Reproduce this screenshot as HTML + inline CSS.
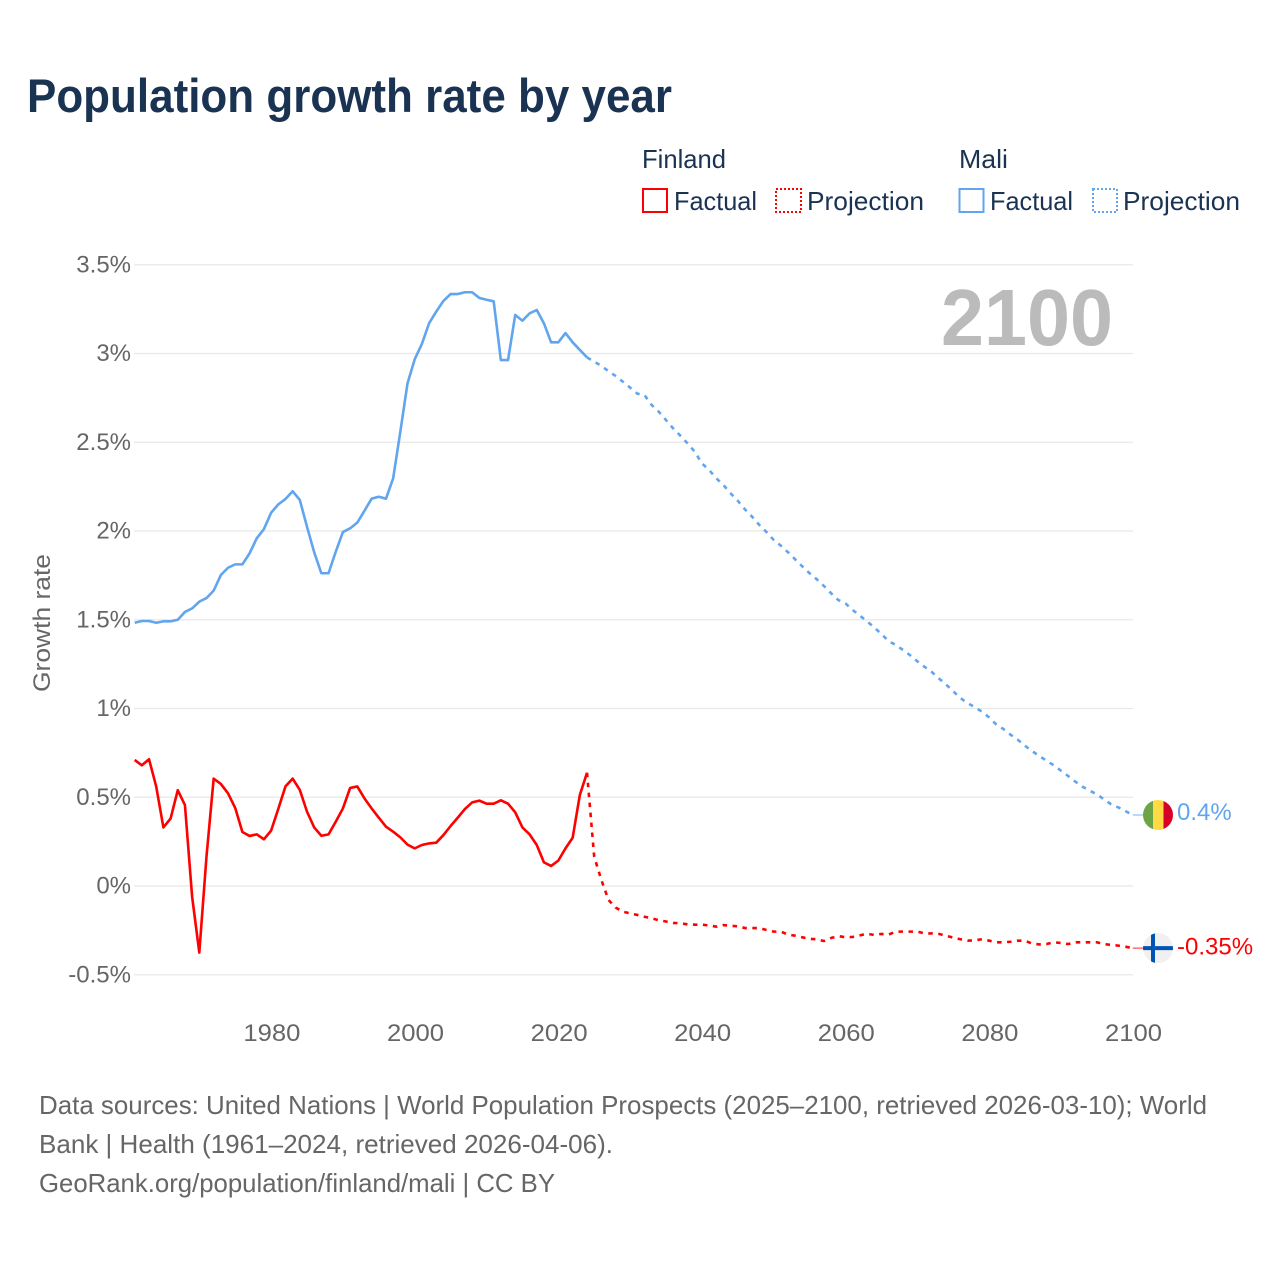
<!DOCTYPE html>
<html lang="en">
<head>
<meta charset="utf-8">
<title>Population growth rate by year</title>
<style>
  html, body { margin: 0; padding: 0; background: #fff; }
  svg { display: block; font-family: "Liberation Sans", "DejaVu Sans", sans-serif; }
</style>
</head>
<body>
<svg id="chart" width="1280" height="1280" viewBox="0 0 1280 1280" xmlns="http://www.w3.org/2000/svg">
  <defs>
    <clipPath id="flag-clip"><circle cx="0" cy="0" r="15"></circle></clipPath>
  </defs>
  <rect width="1280" height="1280" fill="#ffffff"></rect>
  <text x="27" y="112" font-size="47" font-weight="700" fill="#1a3352" textLength="645" lengthAdjust="spacingAndGlyphs">Population growth rate by year</text>

  <g font-size="26" fill="#1a3352">
    <text x="642" y="168" textLength="84" lengthAdjust="spacingAndGlyphs">Finland</text>
    <text x="959" y="168" textLength="49" lengthAdjust="spacingAndGlyphs">Mali</text>
    <g>
      <rect x="643" y="189" width="24" height="23" fill="none" stroke="#ff0000" stroke-width="2"></rect>
      <text x="674" y="210" textLength="83" lengthAdjust="spacingAndGlyphs">Factual</text>
    </g>
    <g>
      <rect x="776" y="189" width="25" height="23" fill="none" stroke="#ff0000" stroke-width="2" stroke-dasharray="2 2"></rect>
      <text x="807" y="210" textLength="117" lengthAdjust="spacingAndGlyphs">Projection</text>
    </g>
    <g>
      <rect x="959.500" y="189" width="24" height="23" fill="none" stroke="#60a5ed" stroke-width="2"></rect>
      <text x="990" y="210" textLength="83" lengthAdjust="spacingAndGlyphs">Factual</text>
    </g>
    <g>
      <rect x="1093" y="189" width="24" height="23" fill="none" stroke="#60a5ed" stroke-width="2" stroke-dasharray="2 2"></rect>
      <text x="1123" y="210" textLength="117" lengthAdjust="spacingAndGlyphs">Projection</text>
    </g>
  </g>

  <g id="grid-layer"></g>
  <g id="y-tick-layer"></g>
  <g id="x-tick-layer"></g>
  <text transform="translate(50,623) rotate(-90)" text-anchor="middle" font-size="24" fill="#666666" textLength="138" lengthAdjust="spacingAndGlyphs">Growth rate</text>
  <text x="1113" y="345" text-anchor="end" font-size="80" font-weight="700" fill="#bbbbbb" textLength="172" lengthAdjust="spacingAndGlyphs">2100</text>

  <g id="series-layer"></g>

  <g id="flag-mali">
    <g clip-path="url(#flag-clip)">
      <rect x="-15" y="-15" width="10" height="30" fill="#6da544"></rect>
      <rect x="-5" y="-15" width="10.500" height="30" fill="#ffda44"></rect>
      <rect x="5.500" y="-15" width="10" height="30" fill="#d80027"></rect>
    </g>
  </g>
  <g id="flag-finland">
    <g clip-path="url(#flag-clip)">
      <rect x="-15" y="-15" width="30" height="30" fill="#f0f0f0"></rect>
      <rect x="-7" y="-15" width="4" height="30" fill="#0052b4"></rect>
      <rect x="-15" y="-2" width="30" height="4" fill="#0052b4"></rect>
    </g>
  </g>
  <g id="value-label-layer"></g>

  <g font-size="26" fill="#666666">
    <text x="39" y="1114" textLength="1168" lengthAdjust="spacingAndGlyphs">Data sources: United Nations | World Population Prospects (2025–2100, retrieved 2026-03-10); World</text>
    <text x="39" y="1153" textLength="574" lengthAdjust="spacingAndGlyphs">Bank | Health (1961–2024, retrieved 2026-04-06).</text>
    <text x="39" y="1192" textLength="516" lengthAdjust="spacingAndGlyphs">GeoRank.org/population/finland/mali | CC BY</text>
  </g>
</svg>

<script>
const firstFactualYear = 1961;
const yTickValues = [-0.5, 0, 0.5, 1, 1.5, 2, 2.5, 3, 3.5];
const yTickLabels = ["-0.5%", "0%", "0.5%", "1%", "1.5%", "2%", "2.5%", "3%", "3.5%"];
const xTickValues = [1980, 2000, 2020, 2040, 2060, 2080, 2100];
const xTickLabels = ["1980", "2000", "2020", "2040", "2060", "2080", "2100"];

const finlandFactual = [
  0.71, 0.68, 0.714, 0.56, 0.33, 0.38, 0.54, 0.456, -0.06, -0.375,
  0.165, 0.605, 0.575, 0.522, 0.44, 0.304, 0.282, 0.291, 0.263, 0.312,
  0.434, 0.561, 0.605, 0.541, 0.419, 0.33, 0.283, 0.291, 0.362, 0.437,
  0.552, 0.561, 0.494, 0.437, 0.385, 0.334, 0.306, 0.274, 0.233, 0.212,
  0.231, 0.24, 0.244, 0.287, 0.338, 0.385, 0.434, 0.471, 0.481, 0.464,
  0.464, 0.483, 0.464, 0.415, 0.33, 0.291, 0.231, 0.133, 0.113, 0.143,
  0.212, 0.272, 0.513, 0.638
];
const finlandProjection = [
  0.165, 0.034, -0.079, -0.122, -0.145, -0.154, -0.163, -0.173, -0.182, -0.193,
  -0.2, -0.208, -0.21, -0.216, -0.218, -0.218, -0.222, -0.229, -0.22, -0.224,
  -0.227, -0.237, -0.237, -0.237, -0.248, -0.257, -0.257, -0.274, -0.28, -0.289,
  -0.298, -0.3, -0.31, -0.293, -0.282, -0.289, -0.287, -0.278, -0.269, -0.276,
  -0.27, -0.274, -0.257, -0.257, -0.257, -0.257, -0.267, -0.267, -0.27, -0.28,
  -0.291, -0.3, -0.308, -0.306, -0.3, -0.308, -0.317, -0.317, -0.314, -0.308,
  -0.308, -0.325, -0.329, -0.327, -0.317, -0.321, -0.327, -0.317, -0.317, -0.317,
  -0.317, -0.327, -0.332, -0.336, -0.342, -0.35
];
const maliFactual = [
  1.483, 1.493, 1.493, 1.483, 1.491, 1.491, 1.5, 1.544, 1.564, 1.602,
  1.622, 1.664, 1.752, 1.793, 1.812, 1.812, 1.874, 1.959, 2.011, 2.103,
  2.15, 2.18, 2.224, 2.175, 2.024, 1.88, 1.762, 1.762, 1.883, 1.994,
  2.015, 2.047, 2.114, 2.182, 2.193, 2.182, 2.297, 2.56, 2.832, 2.967,
  3.054, 3.17, 3.236, 3.296, 3.335, 3.335, 3.345, 3.345, 3.313, 3.303,
  3.294, 2.963, 2.963, 3.217, 3.185, 3.226, 3.245, 3.17, 3.063, 3.063,
  3.115, 3.063, 3.02, 2.978
];
const maliProjection = [
  2.954, 2.93, 2.9, 2.873, 2.841, 2.808, 2.774, 2.766, 2.71, 2.672,
  2.625, 2.578, 2.537, 2.494, 2.447, 2.381, 2.344, 2.297, 2.259, 2.212,
  2.17, 2.122, 2.08, 2.034, 1.994, 1.95, 1.917, 1.88, 1.84, 1.8,
  1.762, 1.728, 1.69, 1.649, 1.611, 1.592, 1.555, 1.523, 1.491, 1.457,
  1.42, 1.38, 1.358, 1.33, 1.3, 1.266, 1.235, 1.206, 1.17, 1.136,
  1.097, 1.059, 1.03, 1.008, 0.982, 0.95, 0.91, 0.884, 0.852, 0.824,
  0.79, 0.76, 0.732, 0.706, 0.68, 0.65, 0.62, 0.588, 0.56, 0.537,
  0.517, 0.488, 0.46, 0.443, 0.422, 0.4
];

const SVG_NS = "http://www.w3.org/2000/svg";
const RED = "#ff0000";
const BLUE = "#60a5ed";

function xScale(year) {
  return 1133.5 + (year - 2100) * 7.18;
}
function seriesX(year) {
  return xScale(year) - 0.8;
}
function yScale(value) {
  return 886 - value * 177.5;
}
function make(tag, parent) {
  const el = document.createElementNS(SVG_NS, tag);
  parent.appendChild(el);
  return el;
}
function linePath(points) {
  return points.map(function (p, i) {
    return (i ? "L" : "M") + seriesX(p[0]).toFixed(2) + " " + yScale(p[1]).toFixed(2);
  }).join(" ");
}
function factualPoints(values) {
  return values.map(function (v, i) { return [firstFactualYear + i, v]; });
}
function projectionPoints(factual, values) {
  const startYear = firstFactualYear + factual.length - 1;
  const pts = [[startYear, factual[factual.length - 1]]];
  values.forEach(function (v, i) { pts.push([startYear + 1 + i, v]); });
  return pts;
}
function formatPercent(v) {
  return Number(v.toFixed(2)) + "%";
}

const gridLayer = document.getElementById("grid-layer");
const yTickLayer = document.getElementById("y-tick-layer");
const xTickLayer = document.getElementById("x-tick-layer");
const seriesLayer = document.getElementById("series-layer");
const valueLayer = document.getElementById("value-label-layer");

yTickValues.forEach(function (v, i) {
  const grid = make("line", gridLayer);
  
  
  grid.setAttribute("x1", 134);
  grid.setAttribute("x2", 1133);
  grid.setAttribute("y1", yScale(v));
  grid.setAttribute("y2", yScale(v));
  grid.setAttribute("stroke", "#e8e8e8");
  grid.setAttribute("stroke-width", "1.3");

  const label = make("text", yTickLayer);
  
  
  label.setAttribute("x", 131);
  label.setAttribute("y", yScale(v) + 7.5);
  label.setAttribute("text-anchor", "end");
  label.setAttribute("font-size", "24");
  label.setAttribute("fill", "#666666");
  label.textContent = yTickLabels[i];
});

xTickValues.forEach(function (v, i) {
  const label = make("text", xTickLayer);
  
  
  label.setAttribute("x", xScale(v));
  label.setAttribute("y", 1041);
  label.setAttribute("text-anchor", "middle");
  label.setAttribute("font-size", "24");
  label.setAttribute("fill", "#666666");
  label.setAttribute("textLength", "57");
  label.setAttribute("lengthAdjust", "spacingAndGlyphs");
  label.textContent = xTickLabels[i];
});

function drawCountry(factual, projection, color, nameFactual, nameProjection, nameConnector) {
  const solid = make("path", seriesLayer);
  
  
  solid.setAttribute("d", linePath(factualPoints(factual)));
  solid.setAttribute("fill", "none");
  solid.setAttribute("stroke", color);
  solid.setAttribute("stroke-width", "2.6");
  solid.setAttribute("stroke-linejoin", "round");

  const dashed = make("path", seriesLayer);
  
  
  dashed.setAttribute("d", linePath(projectionPoints(factual, projection)));
  dashed.setAttribute("fill", "none");
  dashed.setAttribute("stroke", color);
  dashed.setAttribute("stroke-width", "2.6");
  dashed.setAttribute("stroke-dasharray", "4.500 5.500");

  const last = projection[projection.length - 1];
  const connector = make("line", seriesLayer);
  
  
  connector.setAttribute("x1", seriesX(2100));
  connector.setAttribute("x2", 1143);
  connector.setAttribute("y1", yScale(last));
  connector.setAttribute("y2", yScale(last));
  connector.setAttribute("stroke", color);
  connector.setAttribute("stroke-width", "1.2");
  connector.setAttribute("opacity", "0.7");
}

drawCountry(maliFactual, maliProjection, BLUE, "mali-factual-line", "mali-projection-line", "mali-end-connector");
drawCountry(finlandFactual, finlandProjection, RED, "finland-factual-line", "finland-projection-line", "finland-end-connector");

const maliLast = maliProjection[maliProjection.length - 1];
const finlandLast = finlandProjection[finlandProjection.length - 1];
document.getElementById("flag-mali").setAttribute("transform", "translate(1158," + yScale(maliLast) + ")");
document.getElementById("flag-finland").setAttribute("transform", "translate(1158," + yScale(finlandLast) + ")");

const maliValueLabel = make("text", valueLayer);


maliValueLabel.setAttribute("x", 1177);
maliValueLabel.setAttribute("y", yScale(maliLast) + 5);
maliValueLabel.setAttribute("font-size", "24");
maliValueLabel.setAttribute("fill", BLUE);
maliValueLabel.textContent = formatPercent(maliLast);

const finlandValueLabel = make("text", valueLayer);


finlandValueLabel.setAttribute("x", 1177);
finlandValueLabel.setAttribute("y", yScale(finlandLast) + 6.5);
finlandValueLabel.setAttribute("font-size", "24");
finlandValueLabel.setAttribute("fill", RED);
finlandValueLabel.textContent = formatPercent(finlandLast);
</script>
</body>
</html>
